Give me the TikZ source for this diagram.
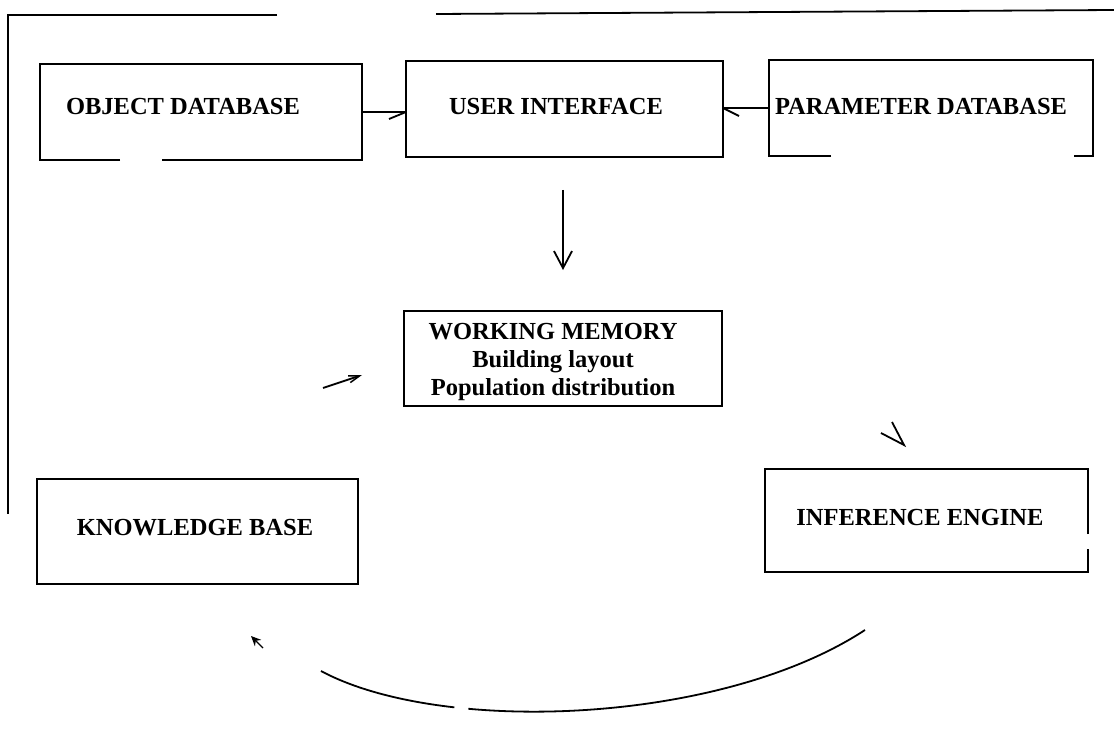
\documentclass[tikz,border=0pt]{standalone}
\usepackage{fontspec}
\setmainfont{Liberation Serif}
\usetikzlibrary{arrows.meta,calc}

\tikzset{
  ink/.style={line width=1.8pt, line cap=butt, line join=miter},
  boxarea/.style={rectangle, inner sep=0pt, outer sep=0pt, draw=none},
  boxline/.style={ink, draw},
  lbl/.style={inner sep=0pt, font=\fontsize{24.5}{28}\selectfont\bfseries, align=center},
  vhead/.style={-{Straight Barb[length=17pt,width=18pt,line width=1.8pt]}},
  thinhead/.style={-{Straight Barb[length=11pt,width=7pt,line width=1.5pt]}},
  smallhead/.style={-{Stealth[length=10pt,width=9pt]}}
}

\begin{document}
\begin{tikzpicture}[x=1pt,y=-1pt]
\useasboundingbox (0,0) rectangle (1114,730);

% outer frame (left and top edges only)
\draw[ink] (277,15) -- (8,15) -- (8,514);
\draw[ink] (436,14) -- (1114,10);

% block areas
\node[boxarea, minimum width=322pt, minimum height=96pt]  (od) at (201,112)   {};
\node[boxarea, boxline, minimum width=317pt, minimum height=96pt] (ui) at (564.5,109) {};
\node[boxarea, minimum width=324pt, minimum height=96pt]  (pd) at (931,108)   {};
\node[boxarea, boxline, minimum width=318pt, minimum height=95pt] (wm) at (563,358.5) {};
\node[boxarea, boxline, minimum width=321pt, minimum height=105pt] (kb) at (197.5,531.5) {};
\node[boxarea, minimum width=323pt, minimum height=103pt] (ie) at (926.5,520.5) {};

% outlines with broken edges
\draw[ink] ($(od.south west)+(80,0)$) -- (od.south west) -- (od.north west)
  -- (od.north east) -- (od.south east) -- ($(od.south west)+(122,0)$);
\draw[ink] ($(pd.south west)+(62,0)$) -- (pd.south west) -- (pd.north west)
  -- (pd.north east) -- (pd.south east) -- ++(-19,0);
\draw[ink] ($(ie.north east)+(0,65)$) -- (ie.north east) -- (ie.north west)
  -- (ie.south west) -- (ie.south east) -- ++(0,-23);

% labels
\node[lbl] (odt) at (183,107) {OBJECT DATABASE};
\node[lbl] (uit) at (556,107) {USER INTERFACE};
\node[lbl] (pdt) at (921,107) {PARAMETER DATABASE};
\node[lbl] (wmt) at (553,362) {WORKING MEMORY\\Building layout\\Population distribution};
\node[lbl] (kbt) at (195,528) {KNOWLEDGE BASE};
\node[lbl] (iet) at (920,518) {INFERENCE ENGINE};

% object database -> user interface
\draw[ink] (od.east) -- (ui.west |- od.east);
\draw[ink] (ui.west |- od.east) -- ++(-17,7);

% parameter database -> user interface
\draw[ink] (pd.west) -- (ui.east |- pd.west);
\draw[ink] (ui.east |- pd.west) -- ++(16,8);

% user interface -> working memory
\coordinate (d1) at (563,190);
\coordinate (d2) at (563,270);
\draw[ink, vhead] (d1) -- (d2);

% knowledge base -> working memory
\coordinate (k1) at (323,388);
\coordinate (k2) at (362,375);
\draw[ink, thinhead] (k1) -- (k2);

% working memory -> inference engine (head only)
\coordinate (vtip) at (904,445);
\draw[ink] (881,433) -- (vtip) -- (892,422);

% inference engine -> knowledge base
\coordinate (c1) at (865,630);
\coordinate (c2) at (321,671);
\draw[ink, dash pattern=on 411pt off 14pt on 400pt]
  (c1) .. controls (720,725) and (440,735) .. (c2);
\coordinate (a1) at (263,648);
\coordinate (a2) at (251,636);
\draw[line width=1.3pt, smallhead] (a1) -- (a2);
\end{tikzpicture}
\end{document}
